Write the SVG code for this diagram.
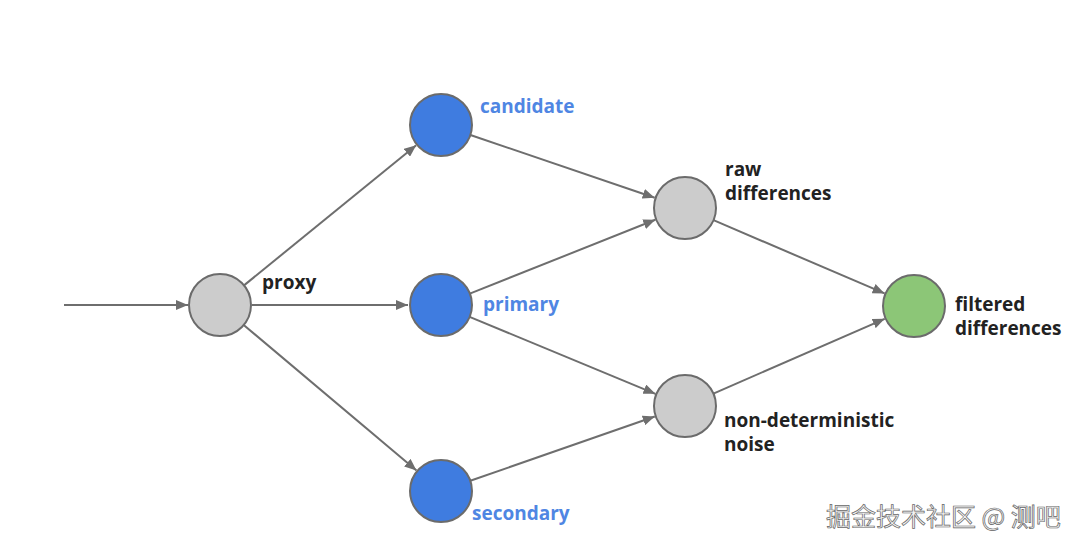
<svg xmlns="http://www.w3.org/2000/svg" width="1080" height="548" viewBox="0 0 1080 548">
<style>
.n{stroke:#6b6b6b;stroke-width:2}
.g{fill:#cccccc}
.b{fill:#3f7ce0}
.f{fill:#8cc677}
.e{stroke:#6e6e6e;stroke-width:2;fill:none;marker-end:url(#ah)}
.t{font-family:"Open Sans","DejaVu Sans",sans-serif;font-weight:bold;font-size:19px;fill:#222}
.tb{font-family:"Open Sans","DejaVu Sans",sans-serif;font-weight:bold;font-size:19px;fill:#4f86e3}
.w{font-family:"Noto Sans CJK SC","Noto Sans",sans-serif;font-size:25px;fill:#f4f4f4;stroke:#666;stroke-width:0.7}
</style>
<defs>
<marker id="ah" viewBox="0 0 12 10" refX="12" refY="5" markerWidth="12" markerHeight="10" markerUnits="userSpaceOnUse" orient="auto">
<path d="M0,0 L12,5 L0,10 Z" fill="#6e6e6e"/>
</marker>
</defs>
<rect width="1080" height="548" fill="#ffffff"/>
<g id="connectors">
<line class="e" x1="64" y1="305" x2="188" y2="305"/>
<line class="e" x1="244" y1="285.4" x2="416.2" y2="145.2"/>
<line class="e" x1="252" y1="305" x2="408" y2="305"/>
<line class="e" x1="243.7" y1="325" x2="416.5" y2="470.4"/>
<line class="e" x1="470.4" y1="135" x2="654.7" y2="197.7"/>
<line class="e" x1="469.8" y1="293.6" x2="655.3" y2="219.8"/>
<line class="e" x1="469.6" y1="316.8" x2="655.4" y2="393.8"/>
<line class="e" x1="470.3" y1="480.8" x2="654.8" y2="416.5"/>
<line class="e" x1="713.5" y1="220.2" x2="884.6" y2="293.4"/>
<line class="e" x1="713.4" y1="393.6" x2="884.7" y2="318.8"/>
</g>
<g id="proxy"><circle class="n g" cx="220" cy="305" r="31"/><text class="t" x="262" y="289">proxy</text></g>
<g id="candidate"><circle class="n b" cx="441" cy="125" r="31"/><text class="tb" x="480" y="113">candidate</text></g>
<g id="primary"><circle class="n b" cx="441" cy="305" r="31"/><text class="tb" x="483" y="311">primary</text></g>
<g id="secondary"><circle class="n b" cx="441" cy="491" r="31"/><text class="tb" x="472" y="520">secondary</text></g>
<g id="raw"><circle class="n g" cx="685" cy="208" r="31"/><text class="t"><tspan x="725" y="176">raw</tspan><tspan x="725" y="200">differences</tspan></text></g>
<g id="noise"><circle class="n g" cx="685" cy="406" r="31"/><text class="t"><tspan x="724" y="427">non-deterministic</tspan><tspan x="724" y="451">noise</tspan></text></g>
<g id="filtered"><circle class="n f" cx="914" cy="306" r="31"/><text class="t"><tspan x="955" y="311">filtered</tspan><tspan x="955" y="335">differences</tspan></text></g>
<text class="w" x="826" y="526">掘金技术社区 @ 测吧</text>
</svg>
